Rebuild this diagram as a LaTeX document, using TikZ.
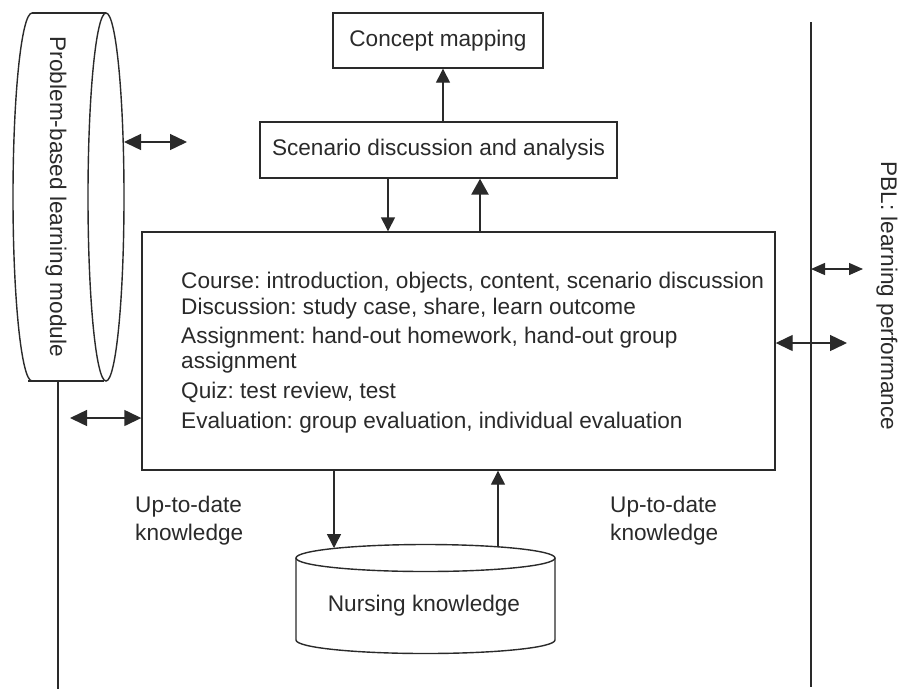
\documentclass[tikz,border=0pt]{standalone}
\usepackage{fontspec}
\setmainfont{Liberation Sans}
\usetikzlibrary{arrows.meta,calc}
\definecolor{ink}{HTML}{2A2A2A}
\frenchspacing
\begin{document}
\begin{tikzpicture}[x=1pt,y=1pt,
  every node/.style={font=\fontsize{22.6}{28}\selectfont, text=ink},
  box/.style={draw=ink, line width=1.4pt, inner sep=0pt},
  ln/.style={draw=ink, line width=1.4pt},
  arr/.style={ln, -{Triangle[length=14pt,width=14pt]}},
  thickarr/.style={draw=ink, line width=2.6pt, -{Triangle[length=16pt,width=17pt]}},
  dbl/.style={ln, {Triangle[length=17pt,width=16pt]}-{Triangle[length=17pt,width=16pt]}},
  dblsmall/.style={ln, {Triangle[length=14pt,width=12pt]}-{Triangle[length=14pt,width=12pt]}},
  itm/.style={anchor=west, inner sep=0pt, text height=16.5pt, text depth=4.5pt}
]
\useasboundingbox[fill=white] (0,0) rectangle (899,-689);

% boxes
\node[box, minimum width=210pt, minimum height=55pt] (concept) at (438,-40.5) {Concept mapping};
\node[box, minimum width=357pt, minimum height=56pt] (scen) at (438.5,-150) {Scenario discussion and analysis};
\node[box, minimum width=633pt, minimum height=238pt] (main) at (458.5,-351) {};

% main box text
\node[itm] (t1) at (181,-282) {Course: introduction, objects, content, scenario discussion};
\node[itm] (t2) at (181,-308) {Discussion: study case, share, learn outcome};
\node[itm] (t3) at (181,-337) {Assignment: hand-out homework, hand-out group};
\node[itm] (t4) at (181,-362) {assignment};
\node[itm] (t5) at (181,-392) {Quiz: test review, test};
\node[itm] (t6) at (181,-422) {Evaluation: group evaluation, individual evaluation};

% top arrows
\draw[arr] (443,0 |- scen.north) -- (443,0 |- concept.south);
\draw[arr] (388,0 |- scen.south) -- (388,0 |- main.north);
\draw[thickarr] (480,0 |- main.north) -- (480,0 |- scen.south);

% left cylinder (problem-based learning module)
\draw[ln] (32,-13) -- (106,-13);
\draw[ln] (28,-381) -- (104,-381);
\draw[ln] (32,-13) arc[start angle=90, end angle=270, x radius=19, y radius=184];
\draw[ln] (106,-197) ellipse[x radius=18, y radius=184];
\node[rotate=-90, inner sep=0pt] (pblm) at (56,-197) {Problem-based learning module};

% left vertical line
\coordinate (lvtop) at (58,-381);
\coordinate (lvbot) at (58,-689);
\draw[ln] (lvtop) -- (lvbot);

% left double arrows
\coordinate (la) at (124,-142);
\coordinate (lb) at (187,-142);
\draw[dbl] (la) -- (lb);
\coordinate (l1) at (70,-418);
\draw[dbl] (l1) -- (l1 -| main.west);

% right vertical line and arrows
\coordinate (rtop) at (811,-22);
\coordinate (rbot) at (811,-687);
\draw[ln] (rtop) -- (rbot);
\coordinate (r1) at (863,-269);
\draw[dblsmall] (r1 -| rtop) -- (r1);
\coordinate (r2) at (847,-343);
\draw[dbl] (r2 -| main.east) -- (r2);
\node[rotate=-90, inner sep=0pt] (pbl) at (887,-296) {PBL: learning performance};

% nursing knowledge cylinder
\draw[ln] (296,-558) -- (296,-640) arc[start angle=180, end angle=360, x radius=129.5, y radius=13.5] -- (555,-558);
\draw[ln] (425.5,-558) ellipse[x radius=129.5, y radius=13.5];
\node[inner sep=0pt] (nk) at (424,-606) {Nursing knowledge};
\coordinate (nkin) at (334,-548);
\coordinate (nkout) at (498,-547);
\draw[arr] (nkin |- main.south) -- (nkin);
\draw[arr] (nkout) -- (nkout |- main.south);

% labels
\node[anchor=west, align=left, inner sep=0pt] (utl) at (135,-521) {Up-to-date\\knowledge};
\node[anchor=west, align=left, inner sep=0pt] (utr) at (610,-521) {Up-to-date\\knowledge};
\end{tikzpicture}
\end{document}
